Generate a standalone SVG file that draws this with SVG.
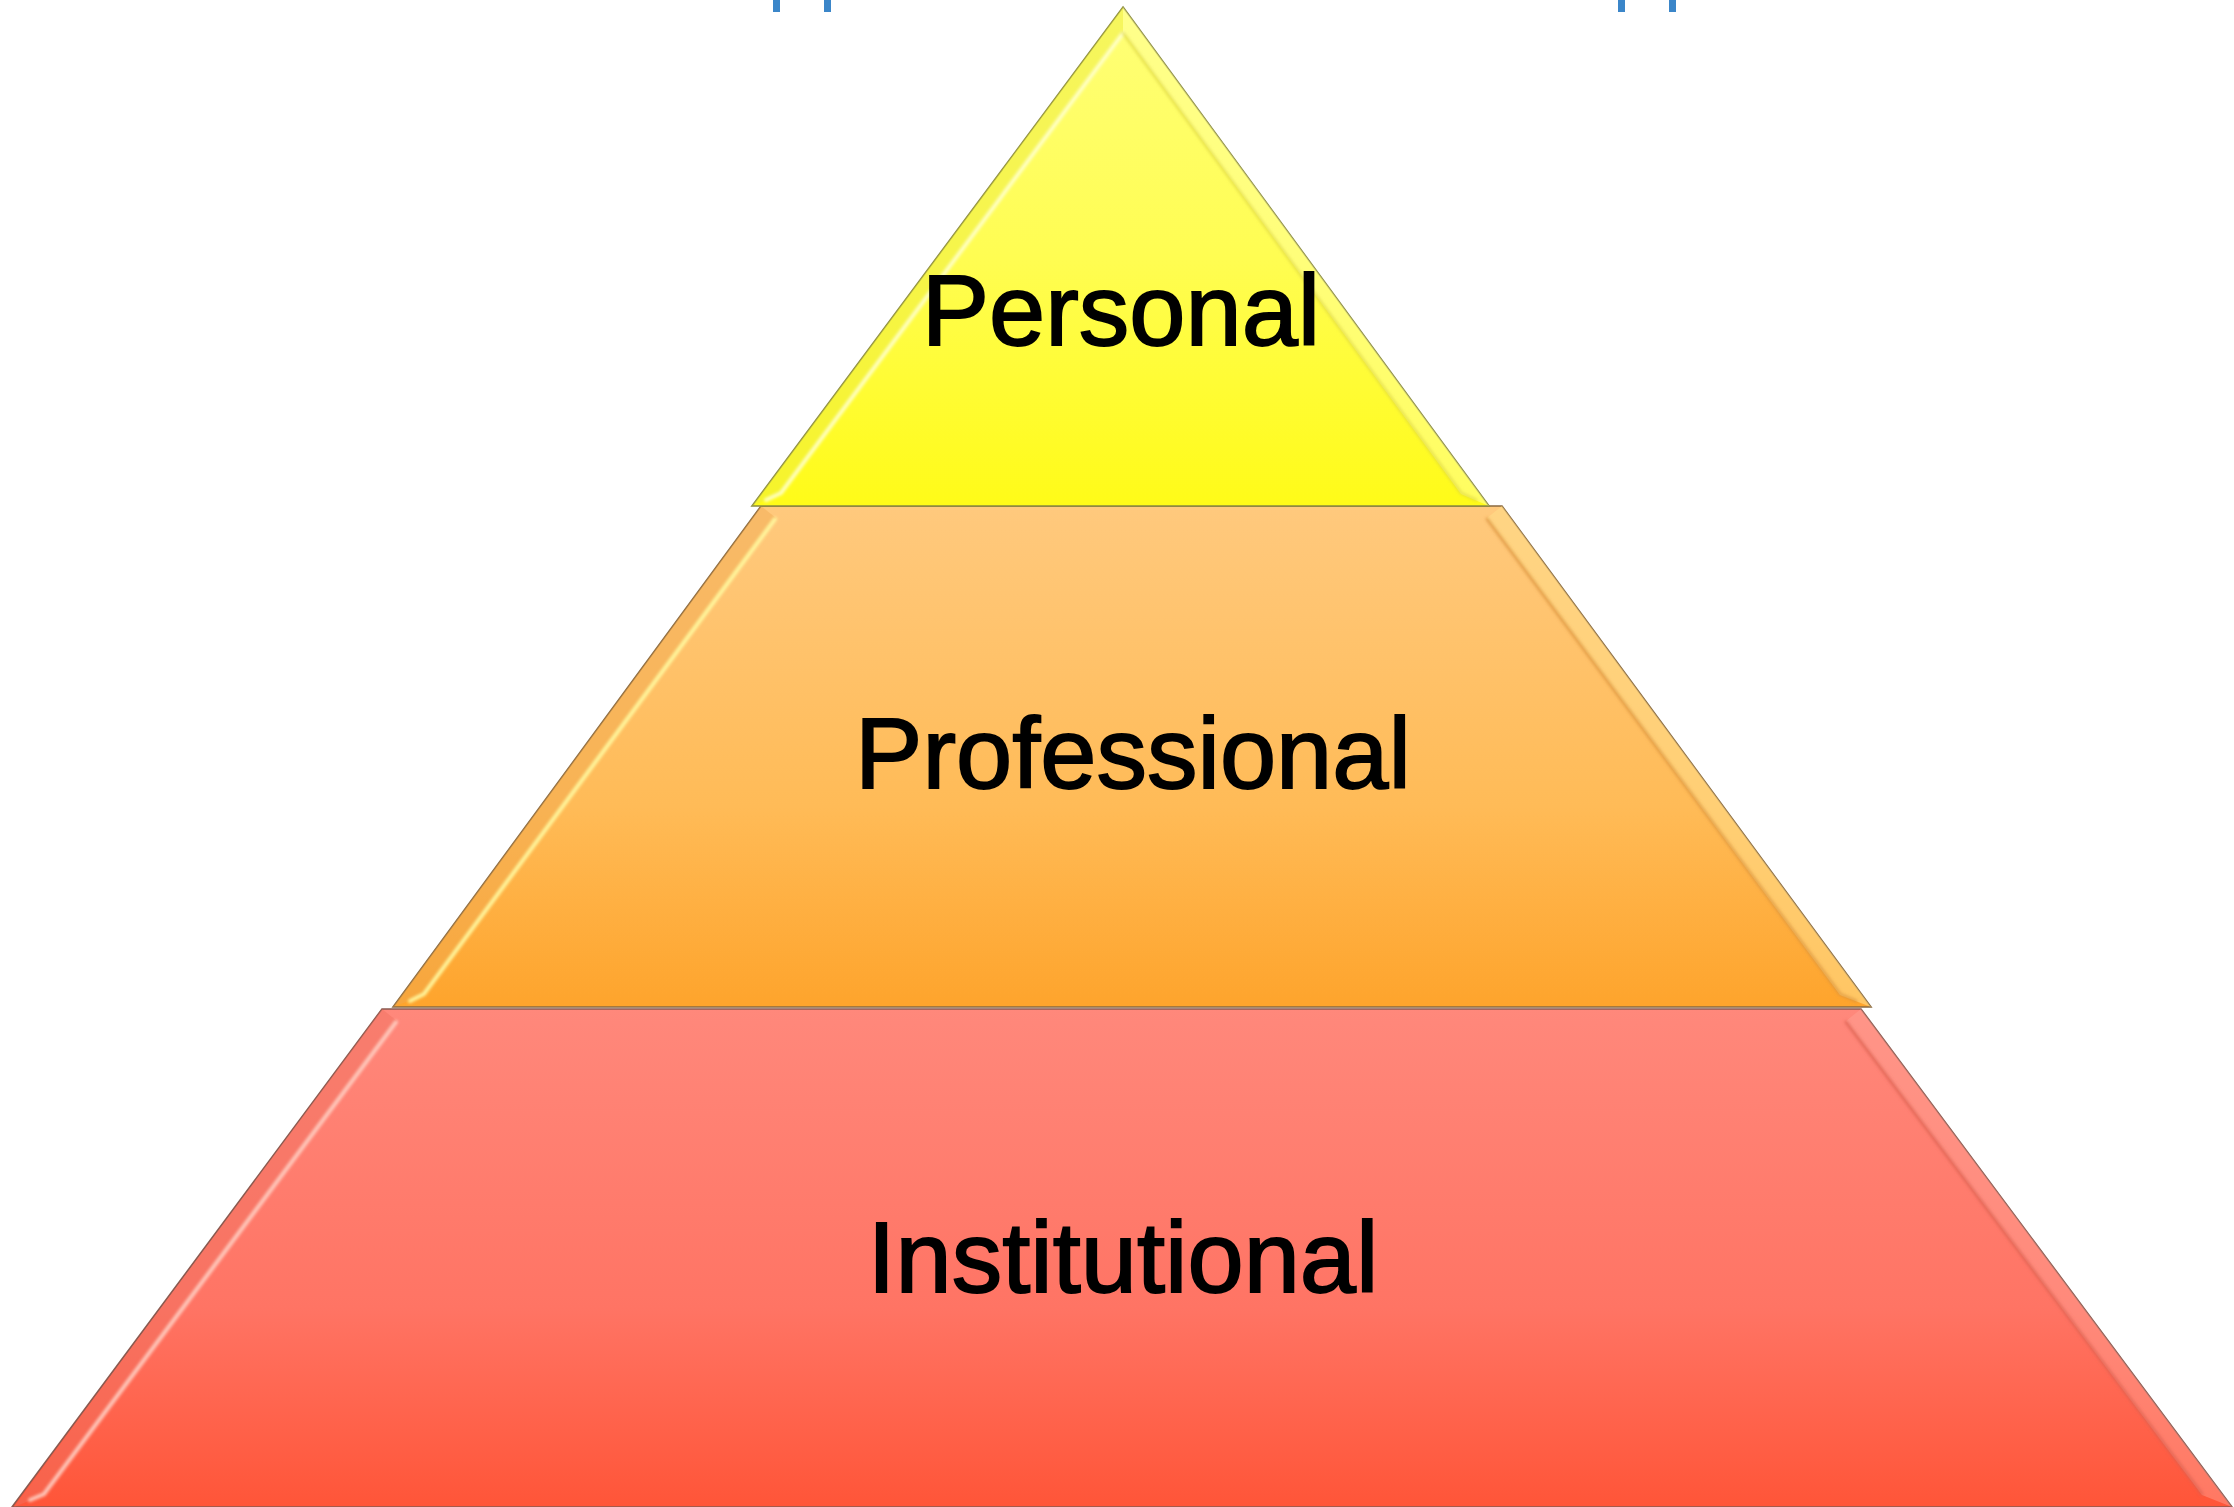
<svg xmlns="http://www.w3.org/2000/svg" width="2234" height="1507" viewBox="0 0 2234 1507">
<defs>
<linearGradient id="gY" x1="0" y1="0" x2="0" y2="1"><stop offset="0" stop-color="#ffff78"/><stop offset="0.5" stop-color="#fffd52"/><stop offset="1" stop-color="#fffb18"/></linearGradient>
<linearGradient id="gO" x1="0" y1="0" x2="0" y2="1"><stop offset="0" stop-color="#ffc97d"/><stop offset="0.6" stop-color="#ffbb57"/><stop offset="1" stop-color="#fea42c"/></linearGradient>
<linearGradient id="gR" x1="0" y1="0" x2="0" y2="1"><stop offset="0" stop-color="#ff887b"/><stop offset="0.6" stop-color="#ff7464"/><stop offset="1" stop-color="#ff5538"/></linearGradient>
<filter id="soft" x="-5%" y="-5%" width="110%" height="110%"><feGaussianBlur stdDeviation="1.6"/></filter>
</defs>
<style>
.outline{stroke-width:1.6;stroke-linejoin:miter}
.hl{fill:none;stroke-width:4;stroke-linecap:round}
.sh{fill:none;stroke-width:3;stroke-linecap:round}
.lbl{font-family:"Liberation Sans",Arial,Helvetica,sans-serif;font-size:101px;fill:#000;stroke:#000;stroke-width:1.8;text-anchor:middle}
.blue{fill:#3b86c9}
</style>
<rect width="2234" height="1507" fill="#ffffff"/>
<g id="title-fragments">
<rect class="blue" x="773" y="0" width="7" height="12"/>
<rect class="blue" x="824" y="0" width="7" height="12"/>
<rect class="blue" x="1618" y="0" width="7" height="12"/>
<rect class="blue" x="1669" y="0" width="7" height="12"/>
</g>
<g id="institutional">
<polygon points="382,1009 1861,1009 2232,1507 12,1507" fill="url(#gR)" stroke="#8a5a50" class="outline"/>
<polygon points="382,1009 397,1021 44,1495 14,1507" fill="#f0705f" opacity="0.45"/>
<polygon points="1861,1009 1846,1021 2202,1495 2232,1507" fill="#ffa396" opacity="0.45"/>
<g filter="url(#soft)">
<path class="hl" d="M396,1022 L44,1494 L30,1500" stroke="#ffd0c4" opacity="0.9"/>
<path class="sh" d="M1846,1022 L2202,1494" stroke="#d8604e" opacity="0.7"/>
</g>
<text class="lbl" x="1123" y="1292">Institutional</text>
</g>
<g id="professional">
<polygon points="761,506 1502,506 1871,1007 393,1007" fill="url(#gO)" stroke="#8a6a40" class="outline"/>
<polygon points="761,506 776,518 424,995 393,1007" fill="#f0a84f" opacity="0.45"/>
<polygon points="1502,506 1487,518 1840,995 1871,1007" fill="#ffdc88" opacity="0.6"/>
<g filter="url(#soft)">
<path class="hl" d="M775,519 L424,994 L410,1001" stroke="#fffaa0" opacity="0.95"/>
<path class="sh" d="M1487,519 L1840,994 L1856,1001" stroke="#d9913a" opacity="0.7"/>
</g>
<text class="lbl" x="1133" y="788">Professional</text>
</g>
<g id="personal">
<polygon points="1123,7 1489,506 752,506" fill="url(#gY)" stroke="#8a8a40" class="outline"/>
<polygon points="1123,7 1123,32 780,494 752,506" fill="#ecec40" opacity="0.45"/>
<polygon points="1123,7 1123,32 1461,494 1489,506" fill="#ffff9a" opacity="0.55"/>
<g filter="url(#soft)">
<path class="hl" d="M1123,33 L781,493 L766,500" stroke="#ffffc8" opacity="0.95"/>
<path class="sh" d="M1123,33 L1461,493 L1476,500" stroke="#d8d040" opacity="0.6"/>
</g>
<text class="lbl" x="1121" y="345">Personal</text>
</g>
<g id="connectors"/>
</svg>
